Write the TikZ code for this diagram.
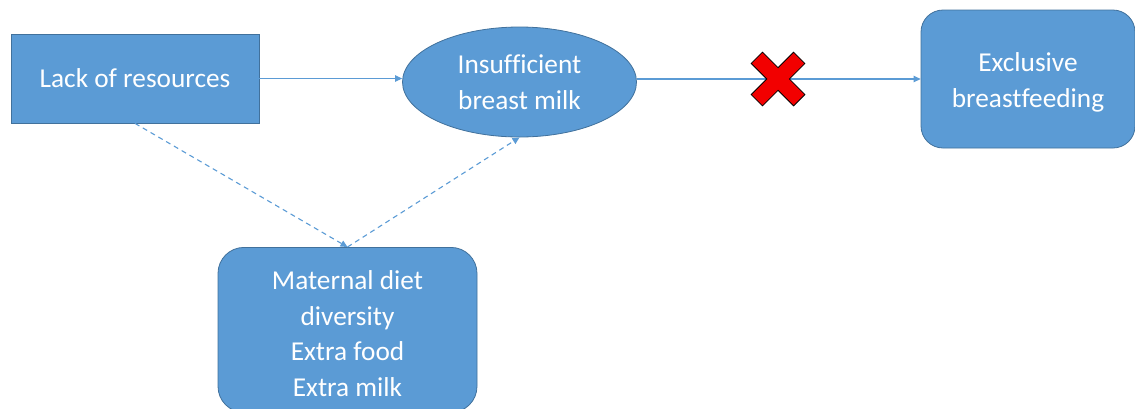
\documentclass[tikz,border=0pt]{standalone}
\usepackage{fontspec}
\setmainfont[Ligatures=NoCommon]{Carlito}
\usetikzlibrary{arrows.meta,shapes.geometric}
\definecolor{boxfill}{HTML}{5B9BD5}
\definecolor{boxedge}{HTML}{41719C}
\definecolor{crossred}{HTML}{F20000}
\tikzset{
  box/.style={draw=boxedge, line width=0.8pt, fill=boxfill, text=white,
    align=center, inner sep=0pt, font=\fontsize{27.3}{35.5}\selectfont},
  link/.style={draw=boxfill, line width=1.1pt,
    -{Triangle[length=7pt,width=6.5pt]}},
  dlink/.style={link, dash pattern=on 5pt off 4pt},
}
\begin{document}
\begin{tikzpicture}[x=1pt,y=-1pt]
\useasboundingbox (0,0) rectangle (1135,408);
% nodes
\node[box, minimum width=248pt, minimum height=89pt] (lack) at (135,78.5) {Lack of resources};
\node[box, ellipse, minimum width=234pt, minimum height=110pt] (milk) at (519.5,82) {Insufficient\\breast milk};
\node[box, rounded corners=22pt, minimum width=214pt, minimum height=138pt] (ebf) at (1028,79)
  {\rule{0pt}{26pt}Exclusive\\breastfeeding};
\node[box, rounded corners=26pt, minimum width=259pt, minimum height=165pt, anchor=north] (diet) at (347.5,247)
  {\rule{0pt}{26pt}Maternal diet\\diversity\\Extra food\\Extra milk};
% connectors
\draw[link] (lack.east) -- (lack.east -| milk.west);
\draw[link] (milk.east |- ebf.west) -- (ebf.west);
\draw[dlink] (lack.south) -- (diet.north);
\draw[dlink] (diet.north) -- (milk.south);
% blocked-path cross
\begin{scope}[shift={(778,79)}, rotate=45]
\draw[black, line width=0.8pt, fill=crossred]
  (-8,-30) -- (8,-30) -- (8,-8) -- (30,-8) -- (30,8) -- (8,8) -- (8,30)
  -- (-8,30) -- (-8,8) -- (-30,8) -- (-30,-8) -- (-8,-8) -- cycle;
\end{scope}
\end{tikzpicture}
\end{document}
